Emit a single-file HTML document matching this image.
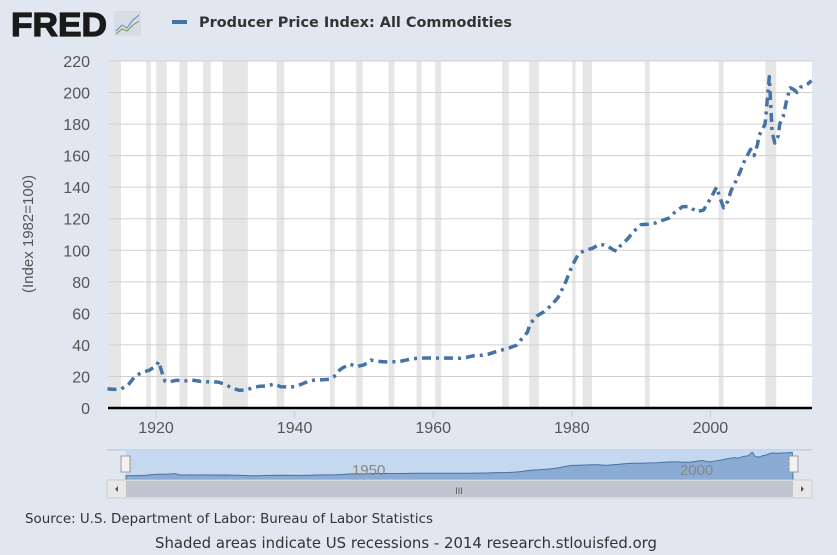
<!DOCTYPE html>
<html><head><meta charset="utf-8"><style>
html,body{margin:0;padding:0;background:#e1e7f1;}
body{width:837px;height:555px;overflow:hidden;font-family:"Liberation Sans",sans-serif;}
</style></head><body>
<svg id="s" width="837" height="555" xmlns="http://www.w3.org/2000/svg" style="position:absolute;left:0;top:0">
<rect width="837" height="555" fill="#e1e7f1"/>
<text x="11" y="36" font-family="Liberation Sans" font-weight="bold" font-size="33" fill="#1a1a1a" stroke="#1a1a1a" stroke-width="1.2" textLength="96" lengthAdjust="spacingAndGlyphs">FRED</text>
<rect x="114" y="11" width="27" height="25" fill="#d8dde4"/>
<polyline points="116,31 122,25 127,28 133,20 139,15" fill="none" stroke="#5a8ac0" stroke-width="1"/>
<polyline points="116,34 122,29 127,31 133,25 139,21" fill="none" stroke="#6aa050" stroke-width="1"/>
<rect x="172" y="20" width="15" height="4" fill="#4572a7"/>
<text x="199" y="27" font-family="DejaVu Sans, sans-serif" font-weight="bold" font-size="14.5" fill="#333" textLength="313" lengthAdjust="spacingAndGlyphs">Producer Price Index: All Commodities</text>
<rect x="108" y="61" width="704" height="347" fill="#fff"/>
<g id="rec"></g>
<g id="grid"></g>
<line x1="108" y1="408" x2="812" y2="408" stroke="#000" stroke-width="2.5"/>
<g id="ser"></g>
<text transform="translate(33,234) rotate(-90)" text-anchor="middle" font-size="15" fill="#555">(Index 1982=100)</text>
<g id="nav"></g>
<text x="25" y="523" font-family="DejaVu Sans, sans-serif" font-size="13" fill="#333" textLength="408" lengthAdjust="spacingAndGlyphs">Source: U.S. Department of Labor: Bureau of Labor Statistics</text>
<text x="155" y="548" font-family="DejaVu Sans, sans-serif" font-size="15" fill="#333" textLength="502" lengthAdjust="spacingAndGlyphs">Shaded areas indicate US recessions - 2014 research.stlouisfed.org</text>
</svg>
<script>
var NS="http://www.w3.org/2000/svg";
function X(y){return 156+(y-1920)*6.93;}
function Y(v){return 408-v*347/220;}
function el(p,t,a){var e=document.createElementNS(NS,t);for(var k in a)e.setAttribute(k,a[k]);(typeof p=="string"?document.getElementById(p):p).appendChild(e);return e;}
var rec=[[1913,1914.95],[1918.6,1919.25],[1920.05,1921.55],[1923.4,1924.55],[1926.8,1927.9],[1929.6,1933.25],[1937.4,1938.5],[1945.1,1945.8],[1948.9,1949.8],[1953.55,1954.4],[1957.6,1958.3],[1960.3,1961.15],[1969.95,1970.9],[1973.85,1975.25],[1980.05,1980.55],[1981.55,1982.9],[1990.55,1991.25],[2001.2,2001.9],[2007.95,2009.5]];
rec.forEach(function(r){var a=Math.max(X(r[0]),108);el("rec","rect",{x:a,y:61,width:X(r[1])-a,height:347,fill:"#e6e6e6"});});
var s=document.getElementById("s");
for(var v=0;v<=220;v+=20){var y=Y(v);if(v>0)el("grid","line",{x1:108,x2:812,y1:y,y2:y,stroke:"#d0d0d0","stroke-width":1});
var t=el(s,"text",{x:90,y:y+6,"text-anchor":"end","font-size":"16",fill:"#555"});t.textContent=v;}
[1920,1940,1960,1980,2000].forEach(function(yr){var x=X(yr);el(s,"line",{x1:x,x2:x,y1:409,y2:418,stroke:"#c0d0e0"});var t=el(s,"text",{x:x,y:433,"text-anchor":"middle","font-size":"16",fill:"#555"});t.textContent=yr;});
var d=[[1913,12.1],[1914,11.8],[1915,12.1],[1916,14.7],[1917,20.2],[1918,22.6],[1919,23.9],[1920,26.6],[1920.4,29.5],[1920.9,22],[1921.3,17],[1922,16.7],[1923,17.6],[1924,16.9],[1925,17.8],[1926,17.2],[1927,16.5],[1928,16.7],[1929,16.4],[1930,14.9],[1931,12.6],[1932,11.2],[1933,11.4],[1934,12.9],[1935,13.8],[1936,13.9],[1937,15.2],[1938,13.5],[1939,13.3],[1940,13.5],[1941,15.1],[1942,17],[1943,17.8],[1944,17.9],[1945,18.2],[1946,20.8],[1946.5,24],[1947,25.6],[1948,27.7],[1949,26.3],[1950,27.3],[1951,30.4],[1952,29.6],[1953,29.2],[1954,29.3],[1955,29.3],[1956,30.3],[1957,31.2],[1958,31.6],[1959,31.7],[1960,31.7],[1961,31.6],[1962,31.7],[1963,31.6],[1964,31.6],[1965,32.3],[1966,33.3],[1967,33.4],[1968,34.2],[1969,35.6],[1970,36.9],[1971,38.1],[1972,39.8],[1973,45],[1973.6,48],[1974,53.5],[1975,58.4],[1976,61.1],[1977,64.9],[1978,69.9],[1979,78.7],[1980,89.8],[1981,98],[1982,100],[1983,101.3],[1984,103.7],[1985,103.2],[1986,100.2],[1986.5,99.5],[1987,102.8],[1988,106.9],[1989,112.2],[1990,116.3],[1991,116.5],[1992,117.2],[1993,118.9],[1994,120.4],[1995,124.7],[1996,127.7],[1997,127.6],[1998,124.4],[1999,125.5],[2000,132.7],[2000.9,140],[2001.4,133],[2001.9,127],[2002.5,131],[2003,138],[2004,146.7],[2005,157.4],[2005.8,164],[2006.3,160],[2006.8,167],[2007,172.6],[2007.9,180],[2008.5,210],[2008.9,175],[2009.3,168],[2009.8,172.6],[2010,180],[2010.5,184.7],[2011,195],[2011.5,203],[2012,202],[2012.5,200],[2013,203.4],[2013.5,204],[2014,205.3],[2014.6,207.5]];
var pts=d.map(function(p){return X(p[0]).toFixed(1)+","+Y(p[1]).toFixed(1);}).join(" ");
el("ser","polyline",{points:pts,fill:"none",stroke:"#4572a7","stroke-width":3.5,"stroke-dasharray":"9,5,3,5","stroke-linejoin":"round"});
var nx0=126,nx1=793,ny0=450,ny1=480;
el("nav","line",{x1:107,x2:812,y1:ny0,y2:ny0,stroke:"#b8c0cc"});
el("nav","rect",{x:nx0,y:ny0,width:nx1-nx0,height:ny1-ny0,fill:"#c5d8ef"});
function NX(y){return nx0+(y-1913)/(2014.7-1913)*(nx1-nx0);}
function NY(v){return ny1-3-v/220*26;}
var np=d.map(function(p){return NX(p[0]).toFixed(1)+","+NY(p[1]).toFixed(1);});
el("nav","polygon",{points:nx0+","+ny1+" "+np.join(" ")+" "+nx1+","+ny1,fill:"#8aabd4",stroke:"#4572a7","stroke-width":1});
var t1=el("nav","text",{x:NX(1950),y:475,"text-anchor":"middle","font-size":"15",fill:"#888"});t1.textContent="1950";
var t2=el("nav","text",{x:NX(2000),y:475,"text-anchor":"middle","font-size":"15",fill:"#888"});t2.textContent="2000";
[nx0-5,nx1-4].forEach(function(x){el("nav","rect",{x:x,y:456,width:9,height:16,fill:"#f2f2f2",stroke:"#999"});});
el("nav","rect",{x:107,y:480,width:705,height:18,fill:"#e8e8e8",stroke:"#ccc"});
el("nav","rect",{x:nx0,y:481,width:nx1-nx0,height:16,fill:"#c0c6d0"});
var t3=el("nav","text",{x:459,y:494,"text-anchor":"middle","font-size":"9",fill:"#555"});t3.textContent="III";
el("nav","polygon",{points:"118,486 118,492 115,489",fill:"#555"});
el("nav","polygon",{points:"801,486 801,492 804,489",fill:"#555"});
</script>
</body></html>
